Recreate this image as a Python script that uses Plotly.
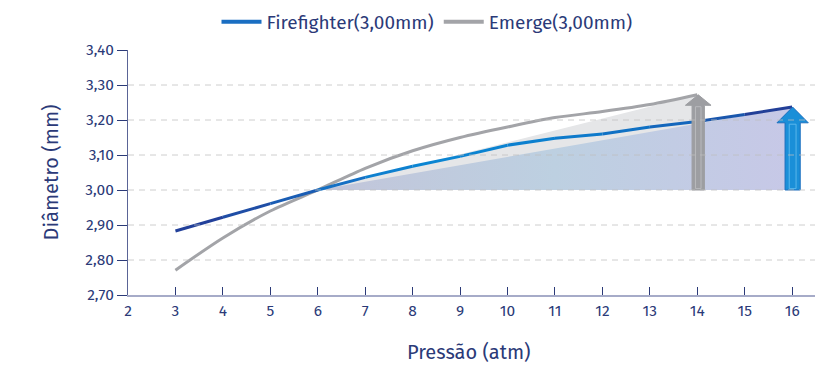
import plotly.graph_objects as go

# ---------------- data ----------------
pressure = [3, 4, 5, 6, 7, 8, 9, 10, 11, 12, 13, 14, 15, 16]
firefighter = [2.883, 2.922, 2.961, 3.000, 3.036, 3.068, 3.096, 3.128, 3.148, 3.160, 3.180, 3.196, 3.216, 3.237]
emerge_x = [3, 4, 5, 6, 7, 8, 9, 10, 11, 12, 13, 14]
emerge = [2.771, 2.863, 2.940, 3.000, 3.062, 3.112, 3.150, 3.180, 3.207, 3.224, 3.244, 3.272]

x_ticks = list(range(2, 17))
y_ticks = [2.70, 2.80, 2.90, 3.00, 3.10, 3.20, 3.30, 3.40]
y_ticklabels = ["2,70", "2,80", "2,90", "3,00", "3,10", "3,20", "3,30", "3,40"]
grid_y = [2.80, 2.90, 3.00, 3.10, 3.20, 3.30]

base = 3.00          # nominal diameter
start_x = 6          # where both curves cross nominal

NAVY = "#2b3a78"
FONT = "Fira Sans, Lato, Open Sans, sans-serif"

# the page body adds an 8px offset; the figure is sized to fit the window
W, H = 815, 357

fig = go.Figure()

# gray growth triangle (Emerge)
fig.add_trace(go.Scatter(
    x=[start_x, emerge_x[-1], emerge_x[-1], start_x],
    y=[base, emerge[-1], base, base],
    fill="toself", fillcolor="#e5e6e8", line=dict(width=0),
    mode="lines", showlegend=False, hoverinfo="skip"))

# blue gradient growth triangle (Firefighter)
fig.add_trace(go.Scatter(
    x=[start_x, pressure[-1], pressure[-1], start_x],
    y=[base, firefighter[-1], base, base],
    fill="toself", line=dict(width=0), mode="lines",
    fillgradient=dict(type="horizontal",
                      colorscale=[[0, "#c2c5da"], [0.5, "#bdd0e1"], [1, "#c7c8e7"]]),
    showlegend=False, hoverinfo="skip"))

# Emerge line
fig.add_trace(go.Scatter(
    x=emerge_x, y=emerge, mode="lines",
    line=dict(color="#a3a4a8", width=3, shape="spline", smoothing=0.8),
    name="Emerge(3,00mm)", showlegend=False, hoverinfo="skip"))

# Firefighter line with a colour gradient, drawn segment by segment
seg_colors = ["#22409a", "#1f4ea6", "#1a5db4", "#1570c4", "#0e80cf", "#0b85d2",
              "#0b83d1", "#0c80cf", "#0e7acb", "#1071c4", "#1366bc", "#1a57ad", "#223f98"]
for i in range(len(pressure) - 1):
    fig.add_trace(go.Scatter(
        x=pressure[i:i + 2], y=firefighter[i:i + 2], mode="lines",
        line=dict(color=seg_colors[i], width=3),
        showlegend=False, hoverinfo="skip"))

# arrows
def arrow(xc, top, shaft_hw, head_hw, head_h, fill, edge, inner):
    hb = top - head_h
    xs = [xc - shaft_hw, xc - shaft_hw, xc - head_hw, xc, xc + head_hw,
          xc + shaft_hw, xc + shaft_hw, xc - shaft_hw]
    ys = [base, hb, hb, top, hb, hb, base, base]
    fig.add_trace(go.Scatter(x=xs, y=ys, fill="toself", fillcolor=fill,
                             line=dict(color=edge, width=1), mode="lines",
                             showlegend=False, hoverinfo="skip"))
    iw = shaft_hw * 0.45
    fig.add_trace(go.Scatter(
        x=[xc - iw, xc - iw, xc + iw, xc + iw, xc - iw],
        y=[base + 0.004, hb - 0.004, hb - 0.004, base + 0.004, base + 0.004],
        mode="lines", line=dict(color=inner, width=1),
        showlegend=False, hoverinfo="skip"))

arrow(emerge_x[-1] + 0.02, emerge[-1], 0.13, 0.27, 0.03, "#9d9ea2", "#9d9ea2", "#b8b9bd")
arrow(pressure[-1] + 0.01, firefighter[-1], 0.16, 0.33, 0.045, "#1a8fd8", "#1d6fbf", "#5ab7ec")

# legend entries
fig.add_trace(go.Scatter(x=[None], y=[None], mode="lines",
                         line=dict(color="#1a6ec2", width=4), name="Firefighter(3,00mm)"))
fig.add_trace(go.Scatter(x=[None], y=[None], mode="lines",
                         line=dict(color="#a3a4a8", width=4), name="Emerge(3,00mm)"))

# dashed gridlines
for gy in grid_y:
    fig.add_shape(type="line", xref="paper", x0=0, x1=1, yref="y", y0=gy, y1=gy,
                  line=dict(color="rgba(190,190,190,0.75)", width=1, dash="6px,5px"),
                  layer="above")

# x-axis title (slightly left of plot centre, as in the reference)
fig.add_annotation(text="Pressão (atm)", xref="paper", yref="paper",
                   x=(461 - 120) / (W - 120), y=-57 / 245, xanchor="center", yanchor="middle",
                   showarrow=False, font=dict(size=20, color=NAVY))

fig.update_layout(
    width=W, height=H,
    margin=dict(l=120, r=0, t=42, b=70, autoexpand=False),
    paper_bgcolor="white", plot_bgcolor="white",
    font=dict(family=FONT, color=NAVY, size=14),
    showlegend=True,
    legend=dict(orientation="h", x=419 / W, xref="container", xanchor="center",
                y=1 - 14 / H, yref="container", yanchor="middle",
                font=dict(size=19, color=NAVY), itemwidth=40, tracegroupgap=0),
    xaxis=dict(range=[2, 16.65], tickvals=x_ticks, showgrid=False, zeroline=False,
               automargin=False,
               showline=True, linecolor="#a6abc8", linewidth=2,
               ticks="inside", ticklen=8, tickcolor=NAVY, tickwidth=1,
               tickfont=dict(size=15.5, color=NAVY)),
    yaxis=dict(range=[2.70, 3.40], tickvals=y_ticks, ticktext=y_ticklabels,
               showgrid=False, zeroline=False, automargin=False,
               showline=True, linecolor="#5a6496", linewidth=1,
               ticks="outside", ticklen=10, tickcolor=NAVY, tickwidth=1,
               tickfont=dict(size=15.5, color=NAVY),
               title=dict(text="Diâmetro (mm)", font=dict(size=20, color=NAVY), standoff=21)),
)

fig.write_html("out.html")
